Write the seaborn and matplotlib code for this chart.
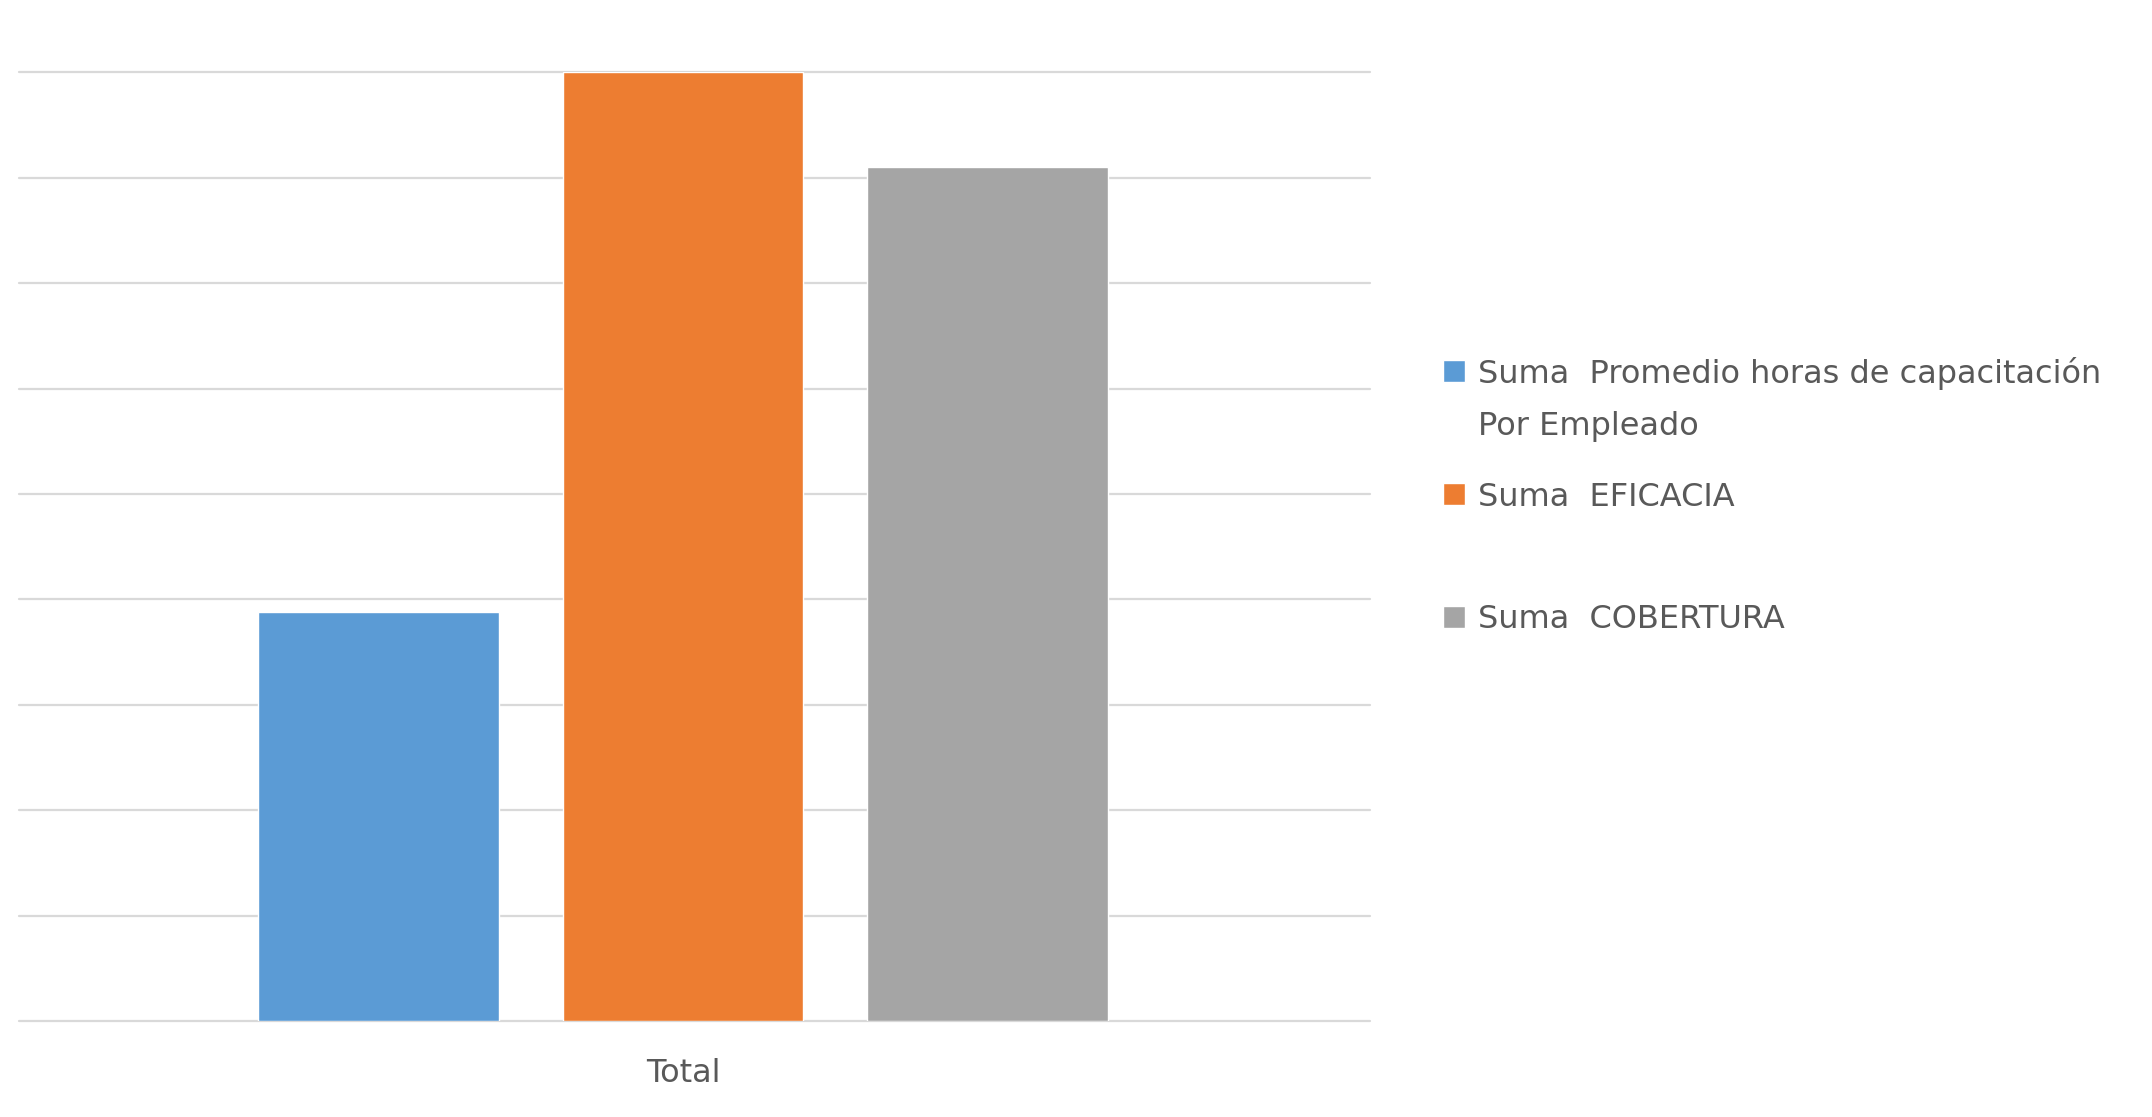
import matplotlib
matplotlib.use("Agg")
import matplotlib.pyplot as plt
import pandas as pd
import seaborn as sns

# values (gridlines are 1 unit apart, no labels shown)
CATEGORIES = ["Total"]
SERIES = [
    "Suma  Promedio horas de capacitación",
    "Suma  EFICACIA",
    "Suma  COBERTURA",
]
VALUES = [3.88, 9.0, 8.1]
COLORS = ["#5B9BD5", "#ED7D31", "#A5A5A5"]
WRAP_TAIL = "Por Empleado"  # second line of the first legend label

W, H = 2152, 1117
TEXT_COLOR = "#595959"
FS = 23
ENTRY_STEP = 124  # px between legend entries in the reference

df = pd.DataFrame(
    {
        "Category": CATEGORIES * len(SERIES),
        "Serie": SERIES,
        "Valor": VALUES,
    }
)

sns.set_theme(style="white")
plt.rcParams["font.family"] = ["DejaVu Sans"]

fig = plt.figure(figsize=(W / 100, H / 100), dpi=100)
ax = fig.add_axes([19 / W, 96 / H, 1351 / W, 948.7 / H])

sns.barplot(
    data=df,
    x="Category",
    y="Valor",
    hue="Serie",
    hue_order=SERIES,
    palette=COLORS,
    saturation=1,
    width=0.8,
    gap=0.21,
    errorbar=None,
    ax=ax,
)

ax.set_xlim(-0.581, 0.601)
ax.set_ylim(0, 9)
ax.set_yticks(range(10))
ax.yaxis.grid(True, color="#d9d9d9", linewidth=1.6)
for gl in ax.get_ygridlines():
    gl.set_clip_on(False)
ax.set_axisbelow(True)
ax.tick_params(axis="y", left=False, labelleft=False)
ax.tick_params(axis="x", bottom=False, labelsize=FS, labelcolor=TEXT_COLOR, pad=21)
ax.set_xlabel("")
ax.set_ylabel("")
sns.despine(ax=ax, left=True, bottom=True)

handles, labels = ax.get_legend_handles_labels()
ax.get_legend().remove()


def make_legend(spacing, anchor_y):
    return fig.legend(
        handles,
        labels,
        loc="upper left",
        bbox_to_anchor=(1443 / W, anchor_y),
        frameon=False,
        fontsize=FS,
        labelcolor=TEXT_COLOR,
        handlelength=0.68,
        handleheight=0.68,
        handletextpad=0.4,
        labelspacing=spacing,
        borderpad=0,
        borderaxespad=0,
    )


leg = make_legend(2.9, 1 - 350 / H)
fig.canvas.draw()
bbs = [t.get_window_extent() for t in leg.get_texts()]
fs_px = FS * 100 / 72
step_now = ((bbs[0].y0 + bbs[0].y1) - (bbs[1].y0 + bbs[1].y1)) / 2
spacing = 2.9 + (ENTRY_STEP - step_now) / fs_px
leg.remove()

leg = make_legend(spacing, 1 - 350 / H)
fig.canvas.draw()
bb0 = leg.get_texts()[0].get_window_extent()
dy = (H - 373) - (bb0.y0 + bb0.y1) / 2
leg.remove()
leg = make_legend(spacing, 1 - 350 / H + dy / H)
fig.canvas.draw()
bb0 = leg.get_texts()[0].get_window_extent()

fig.text(
    bb0.x0 / W,
    ((bb0.y0 + bb0.y1) / 2 - 53) / H,
    WRAP_TAIL,
    fontsize=FS,
    color=TEXT_COLOR,
    va="center",
    ha="left",
)

fig.savefig("out.png", dpi=100, facecolor="white")
